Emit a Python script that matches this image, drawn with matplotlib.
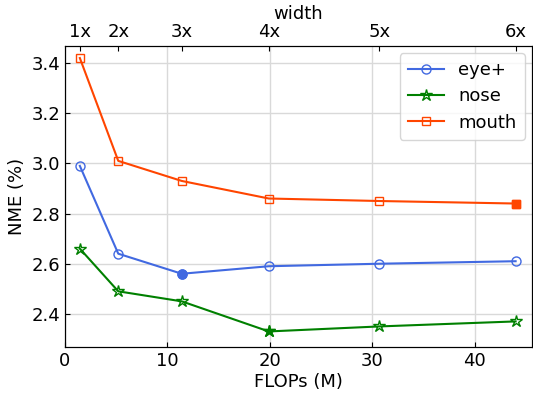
import matplotlib.pyplot as plt

flops = [1.45, 5.2, 11.4, 19.9, 30.7, 44.0]
widths = ["1x", "2x", "3x", "4x", "5x", "6x"]
eye = [2.99, 2.64, 2.56, 2.59, 2.60, 2.61]
nose = [2.66, 2.49, 2.45, 2.33, 2.35, 2.37]
mouth = [3.42, 3.01, 2.93, 2.86, 2.85, 2.84]

plt.rcParams["font.size"] = 13
fig = plt.figure(figsize=(5.33, 3.95), dpi=100)
ax = fig.add_axes([65 / 533, 48 / 395, 467 / 533, 301 / 395])

series = [
    ("eye+", eye, "royalblue", "o", 6.5, 2),
    ("nose", nose, "green", "*", 9, 3),
    ("mouth", mouth, "orangered", "s", 6, 5),
]
for name, vals, c, m, ms, best in series:
    ax.plot(flops, vals, color=c, marker=m, markersize=ms, markerfacecolor="none",
            markeredgecolor=c, linewidth=1.5, label=name)
    ax.plot(flops[best], vals[best], color=c, marker=m, markersize=ms, linestyle="none")

ax.set_xlim(0, 45.6)
ax.set_ylim(2.268, 3.468)
ax.set_xticks([0, 10, 20, 30, 40])
ax.set_yticks([2.4, 2.6, 2.8, 3.0, 3.2, 3.4])
ax.grid(True, color="#d9d9d9", linewidth=1)
ax.set_axisbelow(True)
ax.tick_params(direction="in")
ax.set_xlabel("FLOPs (M)", labelpad=2)
ax.set_ylabel("NME (%)")

top = ax.twiny()
top.set_xlim(ax.get_xlim())
top.set_xticks(flops)
top.set_xticklabels(widths)
top.tick_params(direction="in")
top.set_xlabel("width", labelpad=3)

ax.legend(loc="upper right", fontsize=13, handlelength=2.0, borderpad=0.45,
          labelspacing=0.45, borderaxespad=0.4)

fig.savefig("out.png", dpi=100)
